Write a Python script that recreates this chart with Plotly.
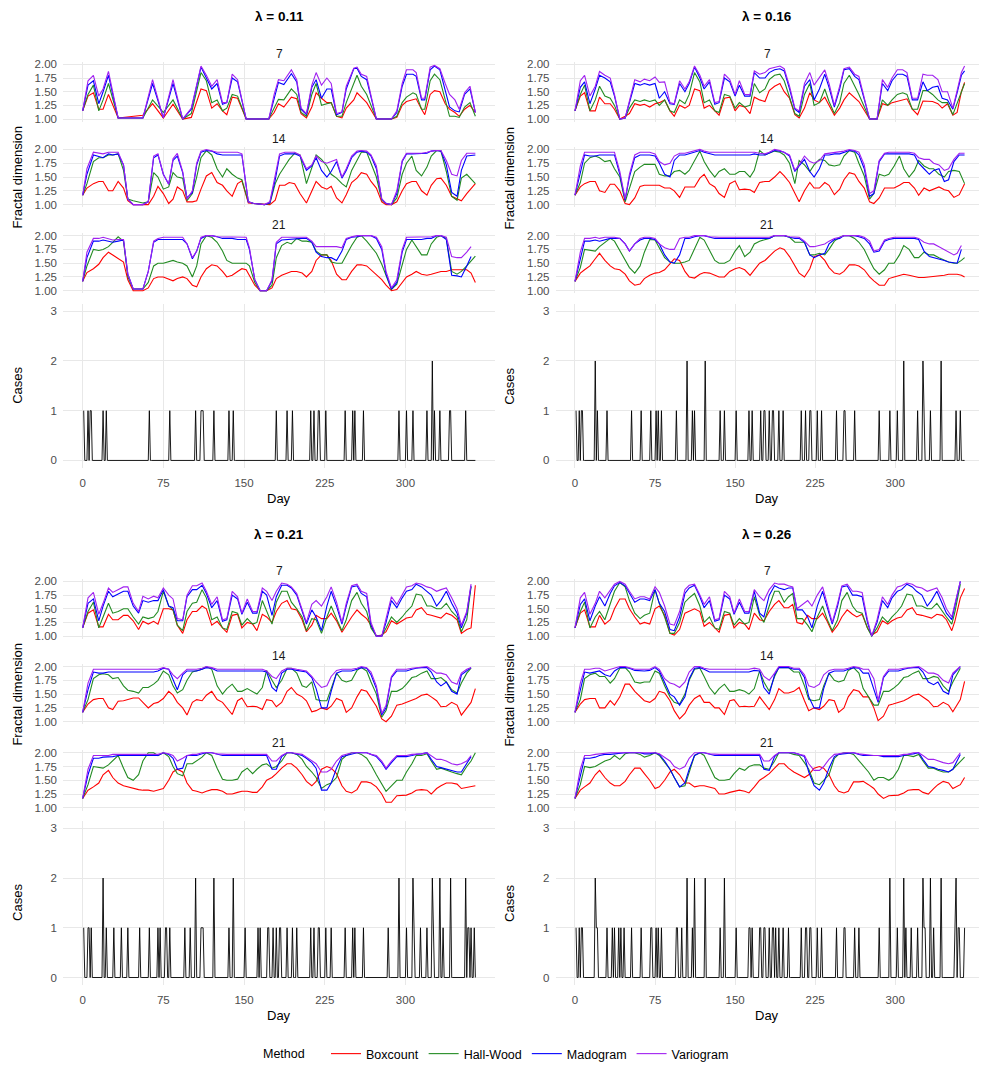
import plotly.graph_objects as go

W, H = 981, 1069

METHODS = ["Boxcount", "Hall-Wood", "Madogram", "Variogram"]
COLORS = {"Boxcount": "#FF0000", "Hall-Wood": "#228B22",
          "Madogram": "#0000FF", "Variogram": "#A020F0"}
LAMBDA_LABELS = ["λ = 0.11", "λ = 0.16", "λ = 0.21", "λ = 0.26"]
WINDOW_LABELS = ["7", "14", "21"]
DAY_TICKS = [0, 75, 150, 225, 300]
FD_TICKS = [1.00, 1.25, 1.50, 1.75, 2.00]
CASE_TICKS = [0, 1, 2, 3]
N_DAYS = 365

# ---------------- lambda = 0.11 ----------------
D011_W7 = [0,5,10,15,19,24,33,56,65,75,
           84,93,101,110,115,120,125,130,134,139,
           144,152,173,178,182,187,194,199,203,208,
           213,217,222,227,231,236,241,245,252,255,
           259,264,273,287,292,297,301,307,310,315,
           318,323,327,332,337,341,346,350,355,360,
           365]
VAR011_W7 = [1.15,1.70,1.80,1.42,1.55,1.87,1.02,1.02,1.72,1.02,
             1.72,1.00,1.20,1.97,1.80,1.60,1.72,1.30,1.30,1.82,
             1.72,1.00,1.00,1.45,1.72,1.70,1.90,1.72,1.20,1.10,
             1.62,1.85,1.62,1.75,1.65,1.10,1.13,1.60,1.93,1.95,
             1.82,1.78,1.00,1.00,1.15,1.65,1.90,1.90,1.85,1.38,
             1.38,1.95,1.98,1.92,1.65,1.45,1.35,1.18,1.48,1.60,
             1.12]
MAD011_W7 = [1.15,1.62,1.70,1.28,1.50,1.80,1.02,1.02,1.65,1.02,
             1.65,1.00,1.18,1.95,1.75,1.55,1.65,1.27,1.30,1.75,
             1.68,1.00,1.00,1.40,1.67,1.63,1.83,1.68,1.18,1.08,
             1.58,1.72,1.38,1.55,1.55,1.08,1.12,1.55,1.92,1.93,
             1.78,1.72,1.00,1.00,1.12,1.60,1.82,1.82,1.78,1.35,
             1.35,1.90,1.97,1.90,1.55,1.22,1.15,1.13,1.45,1.55,
             1.12]
HW011_W7 = [1.15,1.45,1.62,1.15,1.35,1.65,1.02,1.02,1.35,1.12,
            1.35,1.00,1.10,1.85,1.70,1.30,1.35,1.15,1.20,1.45,
            1.42,1.00,1.00,1.20,1.36,1.35,1.55,1.45,1.12,1.05,
            1.45,1.65,1.25,1.28,1.30,1.05,1.05,1.30,1.65,1.80,
            1.60,1.45,1.00,1.00,1.05,1.30,1.40,1.48,1.45,1.18,
            1.18,1.70,1.82,1.72,1.35,1.05,1.05,1.03,1.22,1.30,
            1.05]
BOX011_W7 = [1.15,1.42,1.48,1.18,1.18,1.45,1.02,1.07,1.28,1.02,
             1.27,1.00,1.03,1.55,1.52,1.20,1.28,1.15,1.08,1.40,
             1.38,1.00,1.00,1.12,1.28,1.22,1.40,1.37,1.10,1.02,
             1.22,1.48,1.38,1.30,1.30,1.05,1.02,1.20,1.35,1.48,
             1.40,1.30,1.00,1.00,1.03,1.25,1.32,1.35,1.37,1.18,
             1.08,1.45,1.52,1.50,1.28,1.18,1.12,1.05,1.18,1.25,
             1.12]

D011_W14 = [0,4,10,15,19,24,28,33,38,42,
            47,56,61,66,70,75,80,84,88,93,
            97,102,106,110,115,120,125,130,134,139,
            144,148,154,159,169,174,179,183,188,192,
            197,202,208,213,217,222,227,231,236,241,
            245,250,255,259,264,268,273,278,282,287,
            292,297,301,306,310,315,320,324,329,333,
            338,343,348,352,357,365]
VAR011_W14 = [1.17,1.65,1.95,1.93,1.92,1.95,1.95,1.95,1.72,1.10,
              1.00,1.00,1.05,1.88,1.92,1.55,1.37,1.83,1.93,1.60,
              1.10,1.25,1.75,1.97,2.00,1.98,1.95,1.95,1.95,1.95,
              1.95,1.92,1.05,1.02,1.00,1.05,1.50,1.92,1.95,1.95,
              1.95,1.90,1.65,1.72,1.88,1.78,1.75,1.78,1.82,1.50,
              1.65,1.88,1.97,1.98,1.97,1.90,1.70,1.10,1.02,1.00,
              1.25,1.80,1.93,1.93,1.93,1.93,1.95,1.97,1.98,1.98,
              1.80,1.55,1.52,1.80,1.93,1.93]
MAD011_W14 = [1.17,1.55,1.90,1.87,1.85,1.92,1.90,1.92,1.72,1.10,
              1.00,1.00,1.05,1.85,1.90,1.55,1.37,1.80,1.88,1.58,
              1.12,1.22,1.72,1.95,1.98,1.97,1.92,1.90,1.90,1.90,
              1.90,1.90,1.05,1.02,1.00,1.03,1.45,1.88,1.92,1.92,
              1.92,1.88,1.62,1.70,1.85,1.62,1.50,1.60,1.78,1.48,
              1.62,1.85,1.95,1.97,1.95,1.88,1.65,1.10,1.02,1.00,
              1.20,1.78,1.92,1.92,1.92,1.92,1.93,1.97,1.98,1.97,
              1.72,1.22,1.15,1.62,1.88,1.90]
HW011_W14 = [1.17,1.38,1.78,1.85,1.85,1.90,1.90,1.92,1.62,1.10,
             1.07,1.03,1.05,1.58,1.50,1.28,1.32,1.58,1.50,1.48,
             1.07,1.20,1.50,1.85,1.98,1.90,1.65,1.50,1.65,1.55,
             1.48,1.45,1.05,1.02,1.00,1.02,1.38,1.55,1.70,1.82,
             1.93,1.90,1.38,1.65,1.90,1.82,1.70,1.55,1.48,1.38,
             1.32,1.62,1.80,1.95,1.95,1.75,1.50,1.08,1.02,1.00,
             1.12,1.55,1.75,1.88,1.62,1.52,1.68,1.88,1.98,1.97,
             1.60,1.15,1.08,1.48,1.55,1.38]
BOX011_W14 = [1.17,1.30,1.38,1.42,1.42,1.25,1.25,1.42,1.30,1.07,
              1.00,1.00,1.00,1.15,1.33,1.20,1.02,1.10,1.32,1.25,
              1.05,1.05,1.07,1.28,1.52,1.58,1.40,1.35,1.25,1.15,
              1.38,1.43,1.03,1.02,1.00,1.00,1.08,1.35,1.35,1.40,
              1.38,1.20,1.03,1.25,1.42,1.32,1.28,1.33,1.12,1.03,
              1.18,1.40,1.48,1.58,1.55,1.42,1.30,1.05,1.00,1.00,
              1.05,1.25,1.38,1.42,1.42,1.25,1.17,1.35,1.47,1.48,
              1.35,1.15,1.10,1.07,1.20,1.38]

D011_W21 = [0,4,10,15,19,24,28,33,38,42,
            47,56,61,66,70,75,84,88,93,97,
            102,106,110,115,120,125,130,134,139,144,
            148,152,155,160,165,171,176,180,185,190,
            194,199,204,208,213,217,222,227,231,236,
            241,245,250,255,259,264,268,273,278,282,
            287,292,297,301,306,310,315,320,324,329,
            333,338,343,348,352,357,361,365]
VAR011_W21 = [1.17,1.70,1.95,1.95,1.97,1.95,1.92,1.93,1.93,1.30,
              1.03,1.03,1.35,1.90,1.95,1.97,1.97,1.97,1.97,1.85,
              1.60,1.72,1.97,2.00,2.00,1.98,1.98,1.98,1.97,1.97,
              1.97,1.97,1.78,1.20,1.00,1.00,1.20,1.88,1.97,1.97,
              1.97,1.97,1.97,1.97,1.90,1.80,1.80,1.80,1.80,1.80,
              1.78,1.95,1.98,2.00,2.00,2.00,2.00,1.97,1.80,1.35,
              1.05,1.20,1.75,1.97,1.97,1.97,1.97,1.97,1.98,2.00,
              2.00,1.97,1.62,1.60,1.60,1.70,1.80,None]
MAD011_W21 = [1.17,1.60,1.90,1.90,1.92,1.90,1.88,1.90,1.92,1.30,
              1.03,1.03,1.35,1.88,1.93,1.93,1.93,1.93,1.93,1.85,
              1.58,1.72,1.95,2.00,2.00,1.98,1.95,1.95,1.95,1.93,
              1.93,1.93,1.75,1.20,1.00,1.00,1.18,1.85,1.92,1.93,
              1.93,1.95,1.95,1.95,1.88,1.70,1.62,1.60,1.60,1.55,
              1.72,1.93,1.97,1.98,2.00,2.00,2.00,1.95,1.75,1.30,
              1.03,1.15,1.70,1.93,1.93,1.93,1.93,1.95,1.95,2.00,
              2.00,1.93,1.28,1.27,1.25,1.45,1.62,None]
HW011_W21 = [1.17,1.45,1.75,1.73,1.75,1.80,1.88,1.98,1.90,1.25,
             1.03,1.03,1.15,1.45,1.50,1.50,1.55,1.52,1.50,1.45,
             1.25,1.45,1.85,2.00,1.97,1.88,1.72,1.55,1.50,1.50,
             1.50,1.50,1.45,1.15,1.00,1.00,1.10,1.60,1.82,1.88,
             1.85,1.95,1.90,1.90,1.88,1.72,1.65,1.65,1.52,1.50,
             1.50,1.65,1.82,1.97,2.00,1.90,1.80,1.68,1.48,1.28,
             1.02,1.12,1.50,1.75,1.92,1.80,1.65,1.65,1.85,1.97,
             2.00,1.95,1.35,1.30,1.35,1.45,1.55,1.63]
BOX011_W21 = [1.17,1.33,1.40,1.48,1.60,1.70,1.65,1.58,1.52,1.20,
              1.00,1.00,1.05,1.22,1.25,1.25,1.18,1.22,1.25,1.22,
              1.10,1.07,1.25,1.40,1.47,1.45,1.35,1.25,1.28,1.35,
              1.40,1.38,1.28,1.10,1.00,1.00,1.05,1.22,1.28,1.32,
              1.35,1.35,1.32,1.25,1.35,1.55,1.65,1.65,1.55,1.30,
              1.20,1.20,1.35,1.47,1.47,1.45,1.38,1.30,1.20,1.10,
              1.00,1.02,1.15,1.25,1.30,1.35,1.30,1.28,1.30,1.33,
              1.35,1.35,1.38,1.38,1.38,1.38,1.32,1.15]

CASE_DAY_011 = [1,5,7,8,19,22,62,81,105,110,111,112,122,136,140,180,190,195,
                212,215,219,220,226,244,251,253,261,294,301,307,320,325,327,
                332,341,342,356]
CASE_TWO_011 = [325]

# ---------------- lambda = 0.16 ----------------
D016_W7 = [0,5,9,14,19,23,28,33,37,42,
           47,51,56,61,65,70,75,79,84,89,
           93,98,103,107,112,117,121,126,131,135,
           140,145,150,154,159,164,168,173,178,182,
           187,192,196,201,206,210,215,220,224,229,
           234,238,243,248,252,257,262,266,276,283,
           288,293,297,302,307,311,316,321,326,330,
           335,340,344,349,354,358,362,365]
VAR016_W7 = [1.15,1.70,1.80,1.42,1.60,1.87,1.80,1.75,1.45,1.00,
             1.02,1.35,1.72,1.68,1.73,1.70,1.77,1.67,1.68,1.30,
             1.28,1.70,1.55,1.68,1.97,1.80,1.60,1.72,1.30,1.32,
             1.82,1.72,1.45,1.70,1.45,1.45,1.88,1.82,1.85,1.92,
             1.95,1.97,1.92,1.60,1.20,1.15,1.65,1.85,1.62,1.75,
             1.90,1.65,1.25,1.60,1.92,1.95,1.82,1.78,1.00,1.00,
             1.72,1.58,1.75,1.90,1.90,1.85,1.38,1.38,1.82,1.80,
             1.80,1.72,1.50,1.50,1.20,1.52,1.85,1.97]
MAD016_W7 = [1.15,1.58,1.68,1.28,1.55,1.80,1.75,1.68,1.42,1.00,
             1.02,1.30,1.65,1.62,1.65,1.62,1.65,1.38,1.50,1.28,
             1.27,1.65,1.50,1.65,1.95,1.75,1.55,1.68,1.27,1.30,
             1.75,1.68,1.42,1.62,1.42,1.42,1.85,1.75,1.75,1.85,
             1.90,1.92,1.88,1.55,1.18,1.12,1.60,1.72,1.35,1.55,
             1.82,1.58,1.22,1.55,1.90,1.92,1.78,1.72,1.00,1.00,
             1.65,1.52,1.70,1.82,1.82,1.78,1.35,1.35,1.68,1.52,
             1.58,1.60,1.38,1.35,1.18,1.48,1.80,1.88]
HW016_W7 = [1.15,1.45,1.62,1.15,1.35,1.60,1.42,1.38,1.25,1.00,
            1.02,1.20,1.35,1.32,1.35,1.32,1.35,1.25,1.35,1.15,
            1.12,1.35,1.28,1.45,1.85,1.68,1.30,1.35,1.15,1.12,
            1.45,1.42,1.20,1.30,1.22,1.25,1.65,1.48,1.55,1.72,
            1.80,1.82,1.70,1.40,1.10,1.05,1.45,1.65,1.25,1.30,
            1.55,1.32,1.10,1.30,1.65,1.80,1.60,1.45,1.00,1.00,
            1.35,1.25,1.35,1.45,1.48,1.45,1.18,1.18,1.52,1.52,
            1.45,1.35,1.30,1.30,1.08,1.30,1.50,1.65]
BOX016_W7 = [1.15,1.42,1.48,1.15,1.15,1.40,1.28,1.28,1.18,1.00,
             1.05,1.10,1.28,1.25,1.27,1.22,1.28,1.30,1.35,1.15,
             1.05,1.25,1.20,1.25,1.55,1.52,1.20,1.25,1.15,1.07,
             1.38,1.40,1.15,1.25,1.22,1.10,1.40,1.35,1.32,1.52,
             1.60,1.65,1.50,1.38,1.08,1.02,1.20,1.48,1.35,1.30,
             1.40,1.25,1.07,1.20,1.35,1.48,1.40,1.32,1.00,1.00,
             1.28,1.25,1.30,1.33,1.35,1.37,1.18,1.08,1.33,1.33,
             1.32,1.28,1.20,1.28,1.07,1.12,1.50,1.67]

D016_W14 = [0,5,9,14,19,23,28,33,37,42,
            47,51,56,61,65,70,75,79,84,89,
            93,98,103,107,112,117,121,126,131,135,
            140,145,150,154,159,164,168,173,178,182,
            187,192,196,201,206,210,215,220,224,229,
            234,238,243,248,252,257,262,266,271,276,
            280,285,290,294,299,304,308,313,318,322,
            327,332,336,341,346,350,355,360,365]
VAR016_W14 = [1.17,1.70,1.95,1.95,1.95,1.95,1.95,1.95,1.95,1.60,
              1.10,1.55,1.90,1.95,1.95,1.95,1.92,1.78,1.72,1.75,
              1.88,1.93,1.93,1.95,1.97,2.00,1.97,1.95,1.95,1.95,
              1.95,1.95,1.95,1.95,1.95,1.95,1.95,1.93,1.92,1.95,
              2.00,1.98,1.95,1.90,1.62,1.72,1.88,1.78,1.75,1.80,
              1.92,1.93,1.95,1.95,1.97,2.00,1.98,1.95,1.72,1.20,
              1.25,1.80,1.93,1.95,1.95,1.95,1.95,1.95,1.93,1.85,
              1.82,1.82,1.75,1.72,1.62,1.65,1.82,1.93,1.93]
MAD016_W14 = [1.17,1.58,1.90,1.88,1.88,1.90,1.90,1.90,1.90,1.55,
              1.08,1.50,1.85,1.90,1.90,1.90,1.88,1.75,1.55,1.50,
              1.80,1.90,1.90,1.92,1.95,1.98,1.95,1.92,1.90,1.90,
              1.90,1.90,1.90,1.90,1.90,1.90,1.92,1.90,1.90,1.93,
              1.98,1.97,1.95,1.88,1.60,1.70,1.82,1.60,1.50,1.65,
              1.90,1.90,1.92,1.92,1.95,1.98,1.97,1.90,1.65,1.15,
              1.20,1.78,1.92,1.92,1.92,1.92,1.92,1.92,1.90,1.75,
              1.65,1.55,1.62,1.65,1.42,1.45,1.78,1.90,1.90]
HW016_W14 = [1.17,1.40,1.75,1.85,1.88,1.85,1.78,1.80,1.65,1.50,
             1.05,1.30,1.60,1.68,1.73,1.73,1.73,1.55,1.52,1.52,
             1.60,1.62,1.55,1.62,1.80,1.97,1.78,1.62,1.50,1.60,
             1.65,1.55,1.55,1.60,1.60,1.50,1.62,1.98,1.90,1.93,
             1.97,1.95,1.90,1.75,1.38,1.80,1.72,1.60,1.72,1.82,
             1.80,1.72,1.70,1.72,1.88,1.98,1.95,1.75,1.52,1.10,
             1.20,1.55,1.52,1.55,1.70,1.88,1.65,1.50,1.62,1.80,
             1.70,1.65,1.65,1.55,1.50,1.60,1.62,1.60,1.38]
BOX016_W14 = [1.17,1.32,1.38,1.42,1.42,1.25,1.22,1.37,1.37,1.25,
              1.02,1.00,1.12,1.33,1.35,1.35,1.35,1.35,1.30,1.30,
              1.25,1.13,1.32,1.32,1.32,1.48,1.55,1.38,1.32,1.20,
              1.13,1.38,1.43,1.27,1.28,1.27,1.22,1.40,1.42,1.42,
              1.50,1.60,1.52,1.40,1.20,1.05,1.25,1.40,1.30,1.30,
              1.40,1.35,1.18,1.28,1.45,1.58,1.55,1.42,1.30,1.05,
              1.02,1.12,1.30,1.30,1.30,1.35,1.40,1.40,1.30,1.17,
              1.30,1.25,1.28,1.32,1.27,1.25,1.13,1.18,1.38]

D016_W21 = [0,5,9,14,19,23,28,33,37,42,
            47,51,56,61,65,70,75,79,84,89,
            93,98,103,107,112,117,121,126,131,135,
            140,145,150,154,159,164,168,173,178,182,
            187,192,196,201,206,210,215,220,224,229,
            234,238,243,248,252,257,262,266,271,276,
            280,285,290,294,299,304,308,313,318,322,
            327,332,336,341,346,350,355,358,362,365]
VAR016_W21 = [1.17,1.70,1.95,1.95,1.97,1.95,1.97,1.97,1.97,1.95,
              1.85,1.72,1.85,1.95,1.97,1.97,1.95,1.85,1.78,1.75,
              1.75,1.95,1.97,1.97,2.00,2.00,2.00,1.98,1.97,1.97,
              1.97,1.97,1.97,1.97,1.97,1.97,1.97,1.97,1.97,1.97,
              2.00,2.00,2.00,1.98,1.97,1.97,1.90,1.80,1.80,1.82,
              1.85,1.90,1.95,1.97,2.00,2.00,2.00,2.00,1.97,1.90,
              1.72,1.75,1.92,1.95,1.97,1.97,1.97,1.97,1.97,1.95,
              1.88,1.85,1.85,1.80,1.75,1.70,1.65,1.68,1.82,None]
MAD016_W21 = [1.17,1.60,1.90,1.90,1.92,1.90,1.92,1.95,1.95,1.95,
              1.85,1.72,1.85,1.92,1.95,1.95,1.93,1.85,1.65,1.52,
              1.50,1.65,1.95,1.95,1.98,2.00,2.00,1.97,1.95,1.95,
              1.95,1.95,1.95,1.95,1.95,1.95,1.95,1.95,1.95,1.95,
              2.00,2.00,2.00,1.97,1.95,1.95,1.88,1.65,1.60,1.65,
              1.68,1.85,1.93,1.95,2.00,2.00,2.00,1.98,1.95,1.85,
              1.70,1.72,1.90,1.93,1.95,1.95,1.95,1.95,1.95,1.93,
              1.72,1.62,1.60,1.58,1.55,1.52,1.50,1.50,1.75,None]
HW016_W21 = [1.17,1.42,1.75,1.73,1.72,1.80,1.88,1.95,1.90,1.72,
             1.55,1.42,1.32,1.45,1.70,1.93,1.92,1.78,1.60,1.52,
             1.50,1.50,1.52,1.55,1.75,1.97,1.92,1.72,1.55,1.50,
             1.50,1.55,1.72,1.82,1.62,1.70,1.85,1.90,1.93,1.95,
             2.00,2.00,2.00,1.97,1.88,1.88,1.88,1.65,1.65,1.68,
             1.65,1.75,1.90,1.97,2.00,2.00,1.95,1.88,1.75,1.55,
             1.40,1.30,1.38,1.50,1.50,1.65,1.82,1.75,1.60,1.60,
             1.70,1.65,1.65,1.60,1.55,1.52,1.50,1.50,1.55,1.60]
BOX016_W21 = [1.17,1.32,1.38,1.45,1.58,1.68,1.55,1.45,1.40,1.38,
              1.30,1.18,1.10,1.12,1.22,1.28,1.32,1.33,1.38,1.50,
              1.58,1.55,1.35,1.25,1.23,1.30,1.33,1.32,1.28,1.25,
              1.25,1.35,1.40,1.42,1.38,1.28,1.38,1.50,1.55,1.62,
              1.72,1.78,1.75,1.62,1.45,1.32,1.25,1.40,1.62,1.65,
              1.55,1.42,1.32,1.30,1.35,1.47,1.47,1.45,1.38,1.25,
              1.18,1.10,1.10,1.22,1.25,1.28,1.30,1.28,1.25,1.24,
              1.24,1.25,1.27,1.27,1.28,1.30,1.30,1.30,1.28,1.25]

CASE_DAY_016 = [1,4,6,7,19,21,30,53,62,71,76,78,81,95,105,110,112,122,136,140,
                151,163,166,174,177,178,182,185,186,191,195,212,216,220,221,
                227,231,245,252,253,262,285,295,302,308,321,326,327,333,343,
                357,361]
CASE_TWO_016 = [19,105,122,308,326,343]

# ---------------- lambda = 0.21 ----------------
D021 = [0,5,10,15,19,24,28,33,38,42,
        47,52,56,61,66,70,75,80,84,88,
        93,97,102,106,111,115,120,125,130,134,
        139,144,148,153,158,162,167,171,176,180,
        185,190,194,199,204,208,213,217,222,227,
        231,236,241,245,250,255,259,264,268,273,
        278,282,287,292,297,301,306,310,315,320,
        324,329,333,338,343,348,352,357,361,365]
VAR021_W7 = [1.15,1.70,1.80,1.40,1.60,1.88,1.80,1.85,1.90,1.90,
             1.60,1.45,1.73,1.68,1.73,1.70,1.88,1.75,1.68,1.32,
             1.30,1.75,1.92,1.92,1.97,1.82,1.58,1.72,1.30,1.32,
             1.82,1.72,1.42,1.68,1.45,1.45,1.88,1.82,1.65,1.82,
             1.97,1.95,1.90,1.78,1.50,1.25,1.58,1.65,1.55,1.72,
             1.90,1.62,1.25,1.60,1.92,1.95,1.82,1.78,1.25,1.00,
             1.00,1.30,1.72,1.58,1.75,1.90,1.92,1.97,1.95,1.90,
             1.88,1.82,1.85,1.88,1.70,1.50,1.20,1.45,1.95,None]
MAD021_W7 = [1.15,1.60,1.68,1.28,1.55,1.82,1.72,1.77,1.82,1.82,
             1.55,1.42,1.65,1.62,1.65,1.65,1.85,1.55,1.52,1.28,
             1.28,1.72,1.85,1.85,1.93,1.78,1.52,1.65,1.27,1.30,
             1.75,1.68,1.40,1.62,1.42,1.42,1.82,1.75,1.38,1.72,
             1.93,1.93,1.88,1.75,1.45,1.22,1.48,1.35,1.10,1.55,
             1.82,1.55,1.22,1.55,1.90,1.92,1.78,1.72,1.20,1.00,
             1.00,1.25,1.65,1.52,1.70,1.82,1.85,1.95,1.90,1.82,
             1.75,1.55,1.65,1.82,1.60,1.42,1.15,1.42,1.92,None]
HW021_W7 = [1.15,1.45,1.62,1.15,1.35,1.60,1.42,1.45,1.50,1.50,
            1.35,1.22,1.35,1.32,1.35,1.45,1.82,1.55,1.48,1.20,
            1.10,1.45,1.60,1.62,1.85,1.70,1.30,1.35,1.15,1.12,
            1.45,1.42,1.20,1.32,1.22,1.25,1.65,1.45,1.22,1.62,
            1.82,1.82,1.62,1.50,1.35,1.10,1.32,1.30,1.05,1.35,
            1.55,1.32,1.10,1.30,1.65,1.80,1.60,1.45,1.15,1.00,
            1.00,1.15,1.35,1.25,1.35,1.45,1.55,1.77,1.75,1.55,
            1.55,1.50,1.50,1.60,1.45,1.35,1.08,1.30,1.90,None]
BOX021_W7 = [1.15,1.42,1.48,1.17,1.17,1.40,1.30,1.30,1.38,1.38,
             1.28,1.12,1.27,1.22,1.27,1.22,1.50,1.50,1.48,1.20,
             1.05,1.30,1.45,1.45,1.55,1.50,1.20,1.27,1.15,1.07,
             1.38,1.40,1.15,1.25,1.22,1.10,1.40,1.35,1.25,1.45,
             1.60,1.65,1.50,1.48,1.30,1.08,1.20,1.38,1.32,1.32,
             1.42,1.28,1.07,1.20,1.35,1.48,1.40,1.32,1.20,1.00,
             1.02,1.08,1.28,1.22,1.28,1.33,1.35,1.48,1.52,1.40,
             1.38,1.35,1.33,1.42,1.38,1.30,1.05,1.12,1.15,1.93]

VAR021_W14 = [1.17,1.70,1.95,1.95,1.95,1.95,1.95,1.95,1.95,1.95,
              1.95,1.95,1.95,1.95,1.95,1.95,1.98,1.95,1.85,1.78,
              1.88,1.95,1.95,1.95,1.97,2.00,1.98,1.95,1.95,1.95,
              1.95,1.95,1.95,1.95,1.95,1.95,1.95,1.92,1.82,1.78,
              1.92,1.97,1.97,1.95,1.93,1.92,1.82,1.72,1.62,1.65,
              1.82,1.93,1.95,1.95,1.95,1.97,2.00,1.98,1.90,1.65,
              1.15,1.30,1.82,1.95,1.95,1.95,1.97,1.98,2.00,2.00,
              1.95,1.88,1.88,1.85,1.72,1.68,1.88,1.95,1.98,None]
MAD021_W14 = [1.17,1.58,1.90,1.88,1.88,1.90,1.90,1.90,1.90,1.90,
              1.90,1.90,1.90,1.90,1.90,1.92,1.97,1.95,1.75,1.58,
              1.85,1.92,1.92,1.92,1.95,1.98,1.97,1.92,1.92,1.92,
              1.92,1.92,1.92,1.92,1.92,1.92,1.92,1.90,1.62,1.55,
              1.88,1.95,1.95,1.93,1.92,1.90,1.80,1.60,1.25,1.25,
              1.55,1.88,1.92,1.92,1.92,1.95,1.98,1.97,1.85,1.60,
              1.12,1.25,1.80,1.92,1.92,1.92,1.95,1.97,1.98,1.98,
              1.90,1.72,1.65,1.72,1.55,1.50,1.85,1.93,1.98,None]
HW021_W14 = [1.17,1.40,1.78,1.85,1.87,1.85,1.78,1.80,1.65,1.57,
             1.55,1.52,1.62,1.62,1.68,1.75,1.92,1.85,1.65,1.52,
             1.58,1.75,1.90,1.92,1.95,2.00,1.95,1.65,1.50,1.60,
             1.68,1.55,1.55,1.60,1.55,1.50,1.62,1.93,1.75,1.62,
             1.75,1.97,1.97,1.88,1.65,1.62,1.72,1.40,1.38,1.38,
             1.60,1.88,1.75,1.72,1.75,1.93,1.98,1.92,1.72,1.50,
             1.08,1.20,1.55,1.55,1.60,1.68,1.80,1.82,1.88,1.92,
             1.78,1.78,1.80,1.72,1.58,1.52,1.70,1.88,1.97,None]
BOX021_W14 = [1.17,1.32,1.40,1.42,1.42,1.25,1.22,1.37,1.38,1.40,
              1.43,1.43,1.35,1.25,1.33,1.35,1.42,1.55,1.48,1.35,
              1.25,1.12,1.35,1.40,1.38,1.48,1.55,1.40,1.35,1.25,
              1.13,1.38,1.43,1.27,1.28,1.27,1.22,1.40,1.38,1.27,
              1.35,1.55,1.62,1.50,1.45,1.38,1.18,1.20,1.25,1.22,
              1.28,1.42,1.38,1.17,1.25,1.45,1.58,1.55,1.42,1.28,
              1.05,1.00,1.10,1.30,1.32,1.35,1.38,1.42,1.48,1.50,
              1.45,1.38,1.27,1.28,1.35,1.30,1.12,1.25,1.35,1.60]

VAR021_W21 = [1.17,1.70,1.95,1.95,1.95,1.95,1.97,1.97,1.97,1.97,
              1.97,1.97,1.97,1.97,1.97,1.97,2.00,1.98,1.95,1.85,
              1.90,1.95,1.97,1.97,2.00,2.00,2.00,1.98,1.97,1.97,
              1.97,1.97,1.97,1.97,1.97,1.97,1.97,1.97,1.85,1.85,
              1.95,2.00,2.00,1.98,1.97,1.92,1.85,1.80,1.65,1.65,
              1.70,1.85,1.95,1.97,2.00,2.00,2.00,2.00,1.97,1.95,
              1.85,1.72,1.85,1.95,1.95,1.95,1.97,1.97,1.98,2.00,
              1.95,1.88,1.88,1.85,1.80,1.78,1.80,1.85,1.95,None]
MAD021_W21 = [1.17,1.60,1.90,1.90,1.92,1.92,1.93,1.95,1.95,1.95,
              1.95,1.95,1.95,1.95,1.95,1.95,2.00,1.97,1.90,1.70,
              1.72,1.95,1.95,1.95,1.98,2.00,2.00,1.97,1.95,1.95,
              1.95,1.95,1.95,1.95,1.95,1.95,1.95,1.95,1.70,1.70,
              1.93,2.00,2.00,1.97,1.95,1.90,1.82,1.72,1.32,1.32,
              1.45,1.72,1.93,1.95,1.98,2.00,2.00,2.00,1.97,1.93,
              1.82,1.70,1.82,1.93,1.93,1.93,1.95,1.97,1.98,2.00,
              1.88,1.75,1.73,1.70,1.68,1.65,1.65,1.80,1.93,None]
HW021_W21 = [1.17,1.42,1.75,1.73,1.72,1.78,1.85,1.95,1.72,1.55,
             1.50,1.60,1.85,2.00,2.00,1.95,2.00,1.93,1.75,1.62,
             1.58,1.80,1.80,1.85,1.92,2.00,1.95,1.72,1.52,1.50,
             1.50,1.52,1.65,1.72,1.62,1.70,1.78,1.80,1.72,1.75,
             1.85,2.00,2.00,1.97,1.88,1.75,1.65,1.55,1.35,1.42,
             1.45,1.55,1.88,1.95,2.00,2.00,1.97,1.90,1.78,1.60,
             1.42,1.30,1.40,1.50,1.50,1.65,1.80,1.95,1.95,1.98,
             1.85,1.70,1.72,1.68,1.65,1.62,1.60,1.75,1.85,2.00]
BOX021_W21 = [1.17,1.32,1.38,1.45,1.60,1.68,1.55,1.45,1.40,1.38,
              1.35,1.33,1.32,1.32,1.30,1.32,1.35,1.50,1.65,1.70,
              1.65,1.45,1.32,1.30,1.27,1.30,1.33,1.33,1.30,1.25,
              1.25,1.28,1.30,1.30,1.28,1.28,1.38,1.50,1.55,1.62,
              1.72,1.80,1.80,1.72,1.60,1.48,1.40,1.48,1.70,1.75,
              1.72,1.62,1.40,1.30,1.27,1.33,1.47,1.47,1.45,1.38,
              1.25,1.10,1.10,1.22,1.22,1.23,1.27,1.32,1.33,1.32,
              1.25,1.35,1.40,1.45,1.45,1.43,1.35,1.37,1.38,1.40]

CASE_DAY_021 = [1,5,6,8,19,22,29,36,42,53,62,70,72,77,78,81,95,100,105,110,111,
                112,122,136,140,151,163,165,172,173,177,180,183,184,190,195,199,
                212,215,219,220,226,231,244,251,253,261,284,294,301,307,308,314,
                320,325,326,332,335,342,356,358,359,361,364]
CASE_TWO_021 = [19,105,122,140,294,307,325,332,342,356]

# ---------------- lambda = 0.26 ----------------
D026_W7 = [0,5,9,14,19,23,28,33,37,42,
           47,51,56,61,65,70,75,79,84,89,
           93,98,103,107,112,117,121,126,131,135,
           140,145,149,154,159,163,168,173,177,182,
           187,191,196,200,204,208,213,218,222,227,
           232,236,241,246,250,255,260,264,269,274,
           278,283,288,293,297,302,306,311,316,320,
           325,330,334,339,344,348,353,356,361,365]
VAR026_W7 = [1.15,1.70,1.80,1.40,1.60,1.82,1.70,1.85,1.95,2.00,
             1.95,1.82,1.68,1.72,1.72,1.68,1.90,1.80,1.55,1.22,
             1.20,1.45,1.85,1.93,1.95,1.75,1.58,1.72,1.30,1.32,
             1.82,1.72,1.42,1.68,1.45,1.45,1.85,1.72,1.65,1.85,
             1.97,1.95,1.95,1.92,1.90,1.50,1.58,1.65,1.55,1.75,
             1.90,1.62,1.25,1.60,1.92,1.95,1.82,1.82,1.80,1.30,
             1.00,1.30,1.72,1.58,1.75,1.90,1.92,1.97,1.95,1.90,
             1.88,1.82,1.85,1.88,1.70,1.50,1.35,1.60,2.00,None]
MAD026_W7 = [1.15,1.58,1.68,1.28,1.55,1.72,1.55,1.78,1.92,1.98,
             1.92,1.78,1.62,1.68,1.68,1.65,1.85,1.60,1.45,1.12,
             1.10,1.35,1.78,1.88,1.93,1.72,1.52,1.65,1.27,1.30,
             1.75,1.68,1.40,1.62,1.42,1.42,1.82,1.42,1.35,1.75,
             1.92,1.88,1.85,1.88,1.88,1.48,1.48,1.35,1.15,1.55,
             1.82,1.55,1.22,1.55,1.90,1.92,1.75,1.75,1.72,1.25,
             1.00,1.25,1.65,1.52,1.70,1.82,1.85,1.95,1.90,1.82,
             1.75,1.55,1.65,1.82,1.60,1.42,1.30,1.55,2.00,None]
HW026_W7 = [1.15,1.45,1.62,1.15,1.35,1.45,1.30,1.60,1.82,1.98,
            1.90,1.65,1.42,1.32,1.38,1.42,1.85,1.60,1.35,1.05,
            1.05,1.25,1.62,1.70,1.78,1.55,1.25,1.35,1.15,1.12,
            1.45,1.42,1.20,1.32,1.22,1.25,1.72,1.38,1.25,1.55,
            1.82,1.82,1.62,1.72,1.78,1.32,1.32,1.20,1.08,1.35,
            1.55,1.32,1.10,1.30,1.65,1.80,1.55,1.45,1.42,1.15,
            1.00,1.15,1.35,1.25,1.35,1.45,1.55,1.77,1.75,1.55,
            1.55,1.50,1.50,1.60,1.45,1.35,1.22,1.45,1.95,None]
BOX026_W7 = [1.15,1.42,1.48,1.17,1.17,1.38,1.22,1.30,1.50,1.68,
             1.68,1.50,1.35,1.22,1.25,1.22,1.50,1.55,1.38,1.05,
             1.02,1.12,1.42,1.45,1.50,1.45,1.18,1.25,1.15,1.07,
             1.38,1.40,1.15,1.25,1.22,1.12,1.42,1.30,1.28,1.45,
             1.58,1.65,1.52,1.52,1.58,1.25,1.22,1.38,1.32,1.32,
             1.42,1.28,1.07,1.20,1.35,1.48,1.40,1.35,1.40,1.15,
             1.02,1.08,1.28,1.22,1.28,1.33,1.35,1.48,1.52,1.40,
             1.38,1.35,1.33,1.40,1.38,1.30,1.10,1.28,1.70,1.87]

D026_W14 = [0,5,9,14,19,23,28,33,37,42,
            47,51,56,61,65,70,75,79,84,89,
            93,98,103,107,112,117,121,126,131,135,
            140,145,149,154,159,163,168,173,177,182,
            187,191,196,200,205,210,215,219,224,229,
            233,238,243,247,252,256,261,266,270,275,
            280,284,289,294,298,303,308,312,317,322,
            326,331,336,340,345,350,354,361,365]
VAR026_W14 = [1.17,1.70,1.95,1.95,1.97,1.97,1.92,1.95,1.97,2.00,
              2.00,1.98,1.95,1.95,1.95,1.95,2.00,1.95,1.78,1.70,
              1.68,1.62,1.72,1.90,2.00,2.00,1.97,1.95,1.95,1.95,
              1.95,1.95,1.95,1.95,1.95,1.95,1.97,1.95,1.82,1.75,
              1.88,2.00,2.00,2.00,1.97,1.97,1.85,1.65,1.62,1.68,
              1.85,1.93,1.95,1.95,1.95,1.97,2.00,1.98,1.95,1.95,
              1.78,1.38,1.82,1.95,1.95,1.95,1.97,1.98,2.00,2.00,
              1.95,1.88,1.88,1.85,1.75,1.70,1.88,2.00,None]
MAD026_W14 = [1.17,1.58,1.90,1.88,1.90,1.92,1.85,1.82,1.92,1.98,
              1.98,1.97,1.93,1.92,1.92,1.93,1.98,1.92,1.72,1.50,
              1.45,1.30,1.45,1.78,1.97,1.98,1.95,1.90,1.90,1.90,
              1.90,1.90,1.90,1.90,1.90,1.90,1.93,1.92,1.62,1.50,
              1.85,1.98,1.98,1.98,1.95,1.95,1.80,1.45,1.25,1.25,
              1.60,1.88,1.92,1.92,1.92,1.95,1.98,1.97,1.88,1.88,
              1.60,1.35,1.80,1.92,1.92,1.92,1.95,1.97,1.98,1.98,
              1.90,1.72,1.67,1.72,1.55,1.50,1.85,2.00,None]
HW026_W14 = [1.17,1.40,1.78,1.85,1.88,1.82,1.82,1.70,1.78,1.97,
             1.98,1.90,1.72,1.70,1.72,1.72,1.92,1.88,1.65,1.45,
             1.35,1.32,1.50,1.75,1.95,1.97,1.82,1.62,1.50,1.60,
             1.68,1.55,1.55,1.58,1.55,1.50,1.60,1.92,1.72,1.55,
             1.82,1.98,1.98,1.98,1.90,1.90,1.65,1.40,1.38,1.40,
             1.65,1.88,1.75,1.72,1.75,1.93,1.98,1.88,1.60,1.45,
             1.30,1.30,1.55,1.55,1.60,1.68,1.80,1.82,1.88,1.92,
             1.78,1.78,1.82,1.80,1.65,1.55,1.72,1.97,None]
BOX026_W14 = [1.17,1.32,1.40,1.42,1.42,1.25,1.25,1.38,1.30,1.45,
              1.68,1.68,1.55,1.45,1.38,1.35,1.42,1.55,1.52,1.38,
              1.20,1.05,1.15,1.30,1.42,1.48,1.35,1.35,1.25,1.25,
              1.13,1.38,1.40,1.27,1.28,1.27,1.28,1.45,1.35,1.22,
              1.40,1.60,1.52,1.52,1.55,1.62,1.38,1.20,1.25,1.22,
              1.28,1.40,1.38,1.17,1.25,1.45,1.58,1.55,1.45,1.45,
              1.25,1.02,1.10,1.30,1.32,1.35,1.38,1.42,1.48,1.50,
              1.45,1.38,1.27,1.28,1.35,1.30,1.18,1.40,1.73]

VAR026_W21 = [1.17,1.70,1.95,1.95,1.97,1.98,2.00,2.00,2.00,2.00,
              2.00,2.00,2.00,2.00,2.00,2.00,2.00,1.98,1.92,1.85,
              1.75,1.70,1.75,1.90,2.00,2.00,2.00,1.98,1.97,1.97,
              1.97,1.97,1.97,1.97,1.97,1.97,1.97,1.97,1.85,1.85,
              1.95,2.00,2.00,2.00,2.00,1.97,1.95,1.80,1.68,1.68,
              1.75,1.88,1.97,1.98,2.00,2.00,2.00,1.98,1.97,1.97,
              1.95,1.95,1.95,1.95,1.95,1.95,1.97,1.97,2.00,2.00,
              1.95,1.88,1.88,1.85,1.82,1.80,1.82,2.00,None]
MAD026_W21 = [1.17,1.60,1.90,1.90,1.92,1.95,1.97,1.97,1.98,1.98,
              2.00,2.00,2.00,2.00,1.98,1.98,2.00,1.97,1.85,1.70,
              1.55,1.38,1.45,1.70,1.95,2.00,2.00,1.97,1.95,1.95,
              1.95,1.95,1.95,1.95,1.95,1.95,1.95,1.95,1.70,1.68,
              1.93,2.00,2.00,2.00,2.00,1.97,1.93,1.65,1.40,1.32,
              1.45,1.72,1.93,1.97,1.98,2.00,2.00,1.97,1.95,1.95,
              1.95,1.95,1.93,1.93,1.93,1.93,1.95,1.97,1.98,2.00,
              1.88,1.75,1.73,1.70,1.68,1.65,1.70,1.97,None]
HW026_W21 = [1.17,1.42,1.75,1.73,1.75,1.80,1.85,1.88,1.95,1.88,
             1.98,2.00,2.00,1.97,1.92,1.95,2.00,1.95,1.82,1.70,
             1.55,1.38,1.40,1.65,1.95,2.00,1.95,1.75,1.55,1.50,
             1.50,1.52,1.62,1.72,1.68,1.75,1.78,1.78,1.72,1.70,
             1.85,2.00,2.00,2.00,1.97,1.95,1.82,1.70,1.45,1.42,
             1.50,1.60,1.90,1.97,2.00,2.00,1.97,1.85,1.75,1.65,
             1.50,1.55,1.55,1.50,1.55,1.70,1.95,1.95,1.93,1.97,
             1.85,1.72,1.72,1.68,1.65,1.65,1.70,1.85,1.92]
BOX026_W21 = [1.17,1.32,1.38,1.45,1.60,1.68,1.55,1.45,1.40,1.40,
              1.48,1.60,1.72,1.72,1.62,1.50,1.35,1.38,1.50,1.65,
              1.70,1.60,1.45,1.45,1.38,1.40,1.40,1.38,1.35,1.25,
              1.25,1.28,1.30,1.32,1.30,1.27,1.38,1.50,1.55,1.62,
              1.72,1.80,1.80,1.72,1.65,1.60,1.55,1.60,1.72,1.75,
              1.72,1.60,1.40,1.30,1.27,1.30,1.47,1.47,1.48,1.42,
              1.35,1.25,1.17,1.22,1.22,1.23,1.27,1.32,1.33,1.33,
              1.28,1.25,1.35,1.42,1.48,1.45,1.35,1.42,1.55]

CASE_DAY_026 = [1,4,6,7,19,20,21,30,35,37,41,43,46,53,62,71,72,76,78,81,95,96,
                100,105,110,112,122,136,140,151,163,164,166,173,174,177,178,182,
                185,186,188,191,195,200,212,216,217,220,221,227,231,245,252,253,
                262,266,285,295,302,308,310,315,321,326,327,328,333,336,343,356,
                357,359,360,365]
CASE_TWO_026 = [19,105,112,122,140,295,308,326,333,343,357]

# ---------------- assembly tables ----------------
PANELS = [
    [(D011_W7, BOX011_W7, HW011_W7, MAD011_W7, VAR011_W7),
     (D011_W14, BOX011_W14, HW011_W14, MAD011_W14, VAR011_W14),
     (D011_W21, BOX011_W21, HW011_W21, MAD011_W21, VAR011_W21)],
    [(D016_W7, BOX016_W7, HW016_W7, MAD016_W7, VAR016_W7),
     (D016_W14, BOX016_W14, HW016_W14, MAD016_W14, VAR016_W14),
     (D016_W21, BOX016_W21, HW016_W21, MAD016_W21, VAR016_W21)],
    [(D021, BOX021_W7, HW021_W7, MAD021_W7, VAR021_W7),
     (D021, BOX021_W14, HW021_W14, MAD021_W14, VAR021_W14),
     (D021, BOX021_W21, HW021_W21, MAD021_W21, VAR021_W21)],
    [(D026_W7, BOX026_W7, HW026_W7, MAD026_W7, VAR026_W7),
     (D026_W14, BOX026_W14, HW026_W14, MAD026_W14, VAR026_W14),
     (D026_W14, BOX026_W21, HW026_W21, MAD026_W21, VAR026_W21)],
]
CASES = [(CASE_DAY_011, CASE_TWO_011), (CASE_DAY_016, CASE_TWO_016),
         (CASE_DAY_021, CASE_TWO_021), (CASE_DAY_026, CASE_TWO_026)]

for p, groups in enumerate(PANELS):
    for w, grp in enumerate(groups):
        n = len(grp[0])
        for s in grp[1:]:
            if len(s) != n:
                raise ValueError(f"length mismatch panel {p} window {w}: {len(s)} vs {n}")


def daily_cases(days, twos):
    c = [0] * N_DAYS
    for d in days:
        c[d - 1] = 2 if d in twos else 1
    return c


# ---------------- geometry (pixels) ----------------
COLS = [dict(x0=63, x1=495, rng=[-18.25, 383.25], center=279, ytitle_x=18),
        dict(x0=555.5, x1=979, rng=[-18.25, 378.5], center=767, ytitle_x=510)]
ROW_OFF = [0, 520]
SUB_Y = [(58.95, 119.45), (144.5, 205.5), (231.2, 292.1), (302.5, 467.5)]

FONT = "Liberation Sans, Arial, sans-serif"
TICK_FONT = dict(family=FONT, size=11.5, color="#4D4D4D")
GRID = "#E8E8E8"

fig = go.Figure()
layout = dict(width=W, height=H, margin=dict(l=0, r=0, t=0, b=0),
              paper_bgcolor="white", plot_bgcolor="white", showlegend=True)
annotations = []

for p in range(4):
    col = COLS[p % 2]
    off = ROW_OFF[p // 2]
    for r in range(4):
        k = p * 4 + r + 1
        xn = "xaxis" if k == 1 else f"xaxis{k}"
        yn = "yaxis" if k == 1 else f"yaxis{k}"
        xr = "x" if k == 1 else f"x{k}"
        yr = "y" if k == 1 else f"y{k}"
        y0, y1 = SUB_Y[r]
        layout[xn] = dict(domain=[col["x0"] / W, col["x1"] / W], range=col["rng"],
                          anchor=yr, tickvals=DAY_TICKS, showgrid=True, gridcolor=GRID,
                          gridwidth=1.4, zeroline=False, showline=False, ticks="",
                          showticklabels=(r == 3), tickfont=TICK_FONT,
                          ticklabelstandoff=7)
        if r < 3:
            yrng = [0.95, 2.05]
            yt = FD_TICKS
            ytt = [f"{v:.2f}" for v in FD_TICKS]
        else:
            yrng = [-0.15, 3.15]
            yt = CASE_TICKS
            ytt = [str(v) for v in CASE_TICKS]
        layout[yn] = dict(domain=[1 - (y1 + off) / H, 1 - (y0 + off) / H], range=yrng,
                          anchor=xr, tickvals=yt, ticktext=ytt, showgrid=True,
                          gridcolor=GRID, gridwidth=1.4, zeroline=False, showline=False,
                          ticks="", tickfont=TICK_FONT, ticklabelstandoff=5)
        if r < 3:
            grp = PANELS[p][r]
            days = grp[0]
            for m, vals in zip(METHODS, grp[1:]):
                fig.add_trace(go.Scatter(
                    x=days, y=vals, mode="lines", name=m, legendgroup=m,
                    showlegend=(p == 0 and r == 0),
                    line=dict(color=COLORS[m], width=1.1),
                    xaxis=xr, yaxis=yr, connectgaps=False))
            annotations.append(dict(
                text=WINDOW_LABELS[r], x=col["center"] / W, y=1 - (y0 + off - 7.5) / H,
                xref="paper", yref="paper", showarrow=False, xanchor="center",
                yanchor="middle", font=dict(family=FONT, size=12, color="#1A1A1A")))
        else:
            cd, ctwo = CASES[p]
            fig.add_trace(go.Scatter(
                x=list(range(1, N_DAYS + 1)), y=daily_cases(cd, ctwo), mode="lines",
                line=dict(color="black", width=0.9), showlegend=False,
                xaxis=xr, yaxis=yr))

    annotations.append(dict(
        text=f"<b>{LAMBDA_LABELS[p]}</b>", x=col["center"] / W, y=1 - (14 + off) / H,
        xref="paper", yref="paper", showarrow=False, xanchor="center", yanchor="middle",
        font=dict(family=FONT, size=13.5, color="black")))
    annotations.append(dict(
        text="Fractal dimension", x=col["ytitle_x"] / W, y=1 - (175.5 + off) / H,
        xref="paper", yref="paper", showarrow=False, textangle=-90,
        xanchor="center", yanchor="middle",
        font=dict(family=FONT, size=13, color="black")))
    annotations.append(dict(
        text="Cases", x=col["ytitle_x"] / W, y=1 - (385 + off) / H,
        xref="paper", yref="paper", showarrow=False, textangle=-90,
        xanchor="center", yanchor="middle",
        font=dict(family=FONT, size=13, color="black")))
    annotations.append(dict(
        text="Day", x=col["center"] / W, y=1 - (498 + off) / H,
        xref="paper", yref="paper", showarrow=False, xanchor="center", yanchor="middle",
        font=dict(family=FONT, size=13, color="black")))

# legend title as text, aligned with the legend row
annotations.append(dict(
    text="Method", x=284 / W, y=1 - 1057 / H, xref="paper", yref="paper",
    showarrow=False, xanchor="center", yanchor="middle",
    font=dict(family=FONT, size=12.5, color="black")))

layout["annotations"] = annotations
layout["legend"] = dict(orientation="h", x=530 / W, xanchor="center", y=1 - 1057 / H,
                        yanchor="middle",
                        font=dict(family=FONT, size=12.5, color="black"),
                        itemwidth=30, bgcolor="rgba(0,0,0,0)")
fig.update_layout(**layout)
fig.write_html("out.html")
